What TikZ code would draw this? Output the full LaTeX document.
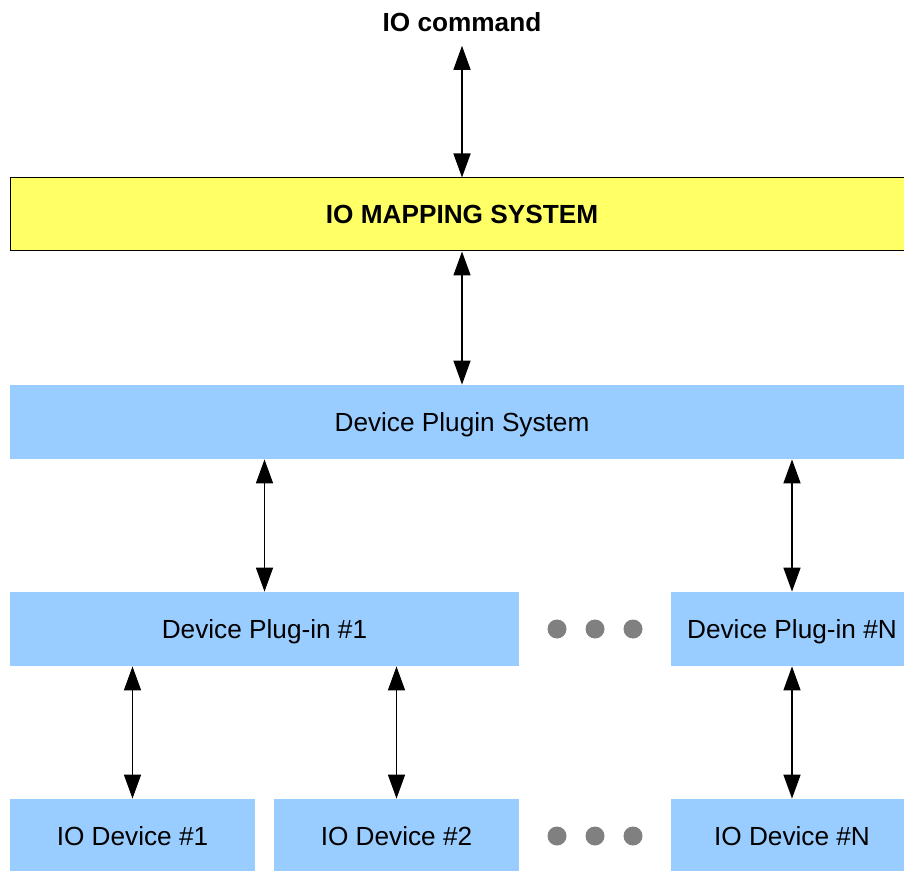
\documentclass[tikz,border=0pt]{standalone}
\usepackage{fontspec}
\setmainfont{Liberation Sans}
\usepackage{xcolor}
\usepackage{tikz}
\usetikzlibrary{positioning, arrows.meta, calc}

\definecolor{mapyellow}{HTML}{FFFF66}
\definecolor{plugblue}{HTML}{99CCFF}
\newcommand{\diagfont}{\fontsize{13.1pt}{15pt}\selectfont}

\begin{document}
\begin{tikzpicture}[x=0.5pt, y=-0.5pt,
    box/.style={fill=plugblue, minimum height=37pt, inner sep=0pt, text height=9.4pt, text depth=0pt, font=\diagfont},
    mapbox/.style={fill=mapyellow, draw=black, line width=0.5pt, minimum height=36.5pt, inner sep=0pt, text height=9.4pt, text depth=0pt, font=\diagfont\bfseries},
    biarrow/.style={{Triangle[length=12pt, width=8.5pt]}-{Triangle[length=12pt, width=8.5pt]}, line width=0.75pt}]
        % Page (boxes on the right run past the edge)
        \clip (0,0) rectangle (904,871);
        % Top command and mapping layer
        \node[font=\diagfont\bfseries, inner sep=0pt, text height=9.4pt, text depth=0pt] (ioc) at (462,22) {IO command};
        \node[mapbox, minimum width=460pt] (map) at (470,214.5) {\hspace*{-8pt}IO MAPPING SYSTEM};
        % Plugin layer
        \node[box, minimum width=452pt] (dps) at (462,422) {Device Plugin System};
        \node[box, minimum width=254.5pt] (dpone) at (264.5,629) {Device Plug-in \#1};
        \node[box, minimum width=121pt] (dpn) at (792,629) {Device Plug-in \#N};
        % Devices
        \node[box, minimum width=122.5pt] (iodone) at (132.5,836) {IO Device \#1};
        \node[box, minimum width=122.5pt] (iodtwo) at (396.5,836) {IO Device \#2};
        \node[box, minimum width=121pt] (iodn) at (792,836) {IO Device \#N};
        % Dots between the columns
        \foreach \y in {629,836} {
          \foreach \x in {557,595,633} {\fill[gray] (\x,\y) circle[radius=4.75pt];}
        }
        % Links
        \draw[biarrow, shorten <=7pt] (ioc.south) -- (map.north -| ioc.south);
        \draw[biarrow] (map.south -| dps.north) -- (dps.north);
        \draw[biarrow] (dps.south -| dpone.north) -- (dpone.north);
        \draw[biarrow] (dps.south -| dpn.north) -- (dpn.north);
        \draw[biarrow] (dpone.south -| iodone.north) -- (iodone.north);
        \draw[biarrow] (dpone.south -| iodtwo.north) -- (iodtwo.north);
        \draw[biarrow] (dpn.south) -- (iodn.north);
      \end{tikzpicture}
\end{document}
